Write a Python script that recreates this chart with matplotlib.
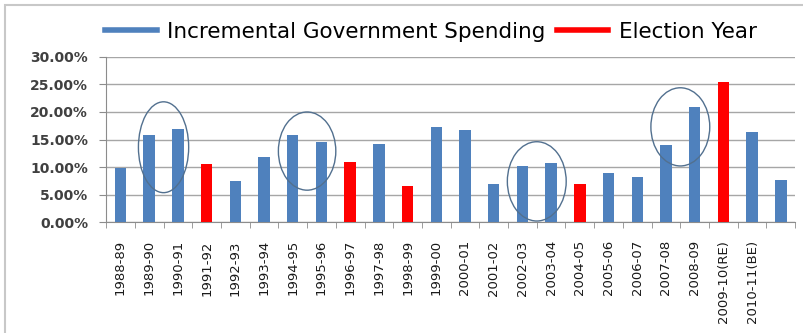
import matplotlib.pyplot as plt
from matplotlib.patches import Ellipse, Rectangle
from matplotlib.lines import Line2D
from matplotlib.ticker import FixedLocator, PercentFormatter

plt.rcParams["font.family"] = ["DejaVu Sans"]

years = ['1988-89', '1989-90', '1990-91', '1991-92', '1992-93', '1993-94',
         '1994-95', '1995-96', '1996-97', '1997-98', '1998-99', '1999-00',
         '2000-01', '2001-02', '2002-03', '2003-04', '2004-05', '2005-06',
         '2006-07', '2007-08', '2008-09', '2009-10(RE)', '2010-11(BE)', '']
spending = [9.8, 15.8, 16.9, 10.6, 7.4, 11.8, 15.8, 14.6, 10.9, 14.1, 6.5, 17.3,
            16.7, 6.9, 10.2, 10.7, 6.9, 8.9, 8.2, 14.0, 20.9, 25.5, 16.4, 7.6]
election = ['1991-92', '1996-97', '1998-99', '2004-05', '2009-10(RE)']

# circled pairs: (centre x, centre y, width, height)
circles = [(1.5, 13.6, 1.75, 16.5), (6.5, 12.9, 2.0, 14.2),
           (14.5, 7.4, 2.05, 14.4), (19.5, 17.3, 2.05, 14.2)]

blue = '#4F81BD'
red = '#FF0000'

fig = plt.figure(figsize=(8.04, 3.33), dpi=100)
ax = fig.add_axes([0.132, 0.333, 0.857, 0.496])

x = list(range(len(years)))
colors = [red if y in election else blue for y in years]
ax.bar(x, spending, width=0.4, color=colors, zorder=3)

for cx, cy, w, h in circles:
    ax.add_patch(Ellipse((cx, cy), w, h, fill=False, edgecolor='#52708f',
                         linewidth=1.0, zorder=4))

ax.set_xlim(-0.5, len(years) - 0.5)
ax.set_ylim(0, 30)
ax.set_yticks([0, 5, 10, 15, 20, 25, 30])
ax.yaxis.set_major_formatter(PercentFormatter(decimals=2))
ax.grid(axis='y', color='#a6a6a6', linewidth=1.0, zorder=0)

ax.set_xticks(x)
ax.set_xticklabels(years, rotation=90, fontsize=9.5, color='#1a1a1a')
ax.tick_params(axis='x', length=0, pad=13)
ax.xaxis.set_minor_locator(FixedLocator([i - 0.5 for i in range(len(years) + 1)]))
ax.tick_params(axis='x', which='minor', length=4, color='#8c8c8c', direction='out')
ax.tick_params(axis='y', length=5, color='#8c8c8c', labelsize=10, labelcolor='#404040', pad=8)
for lbl in ax.get_yticklabels():
    lbl.set_fontweight('bold')

for s in ['top', 'right']:
    ax.spines[s].set_visible(False)
ax.spines['left'].set_color('#8c8c8c')
ax.spines['bottom'].set_color('#8c8c8c')

handles = [Line2D([0], [0], color=blue, linewidth=4),
           Line2D([0], [0], color=red, linewidth=4)]
fig.legend(handles, ['Incremental Government Spending', 'Election Year'],
           loc='center', bbox_to_anchor=(0.536, 0.905), ncol=2, frameon=False,
           fontsize=15.5, handlelength=2.4, handletextpad=0.5, columnspacing=0.5)

fig.add_artist(Rectangle((0.006, -0.02), 1.05, 1.005, transform=fig.transFigure,
                         fill=False, edgecolor='#c8c8c8', linewidth=1.5))

plt.savefig('out.png', dpi=100)
